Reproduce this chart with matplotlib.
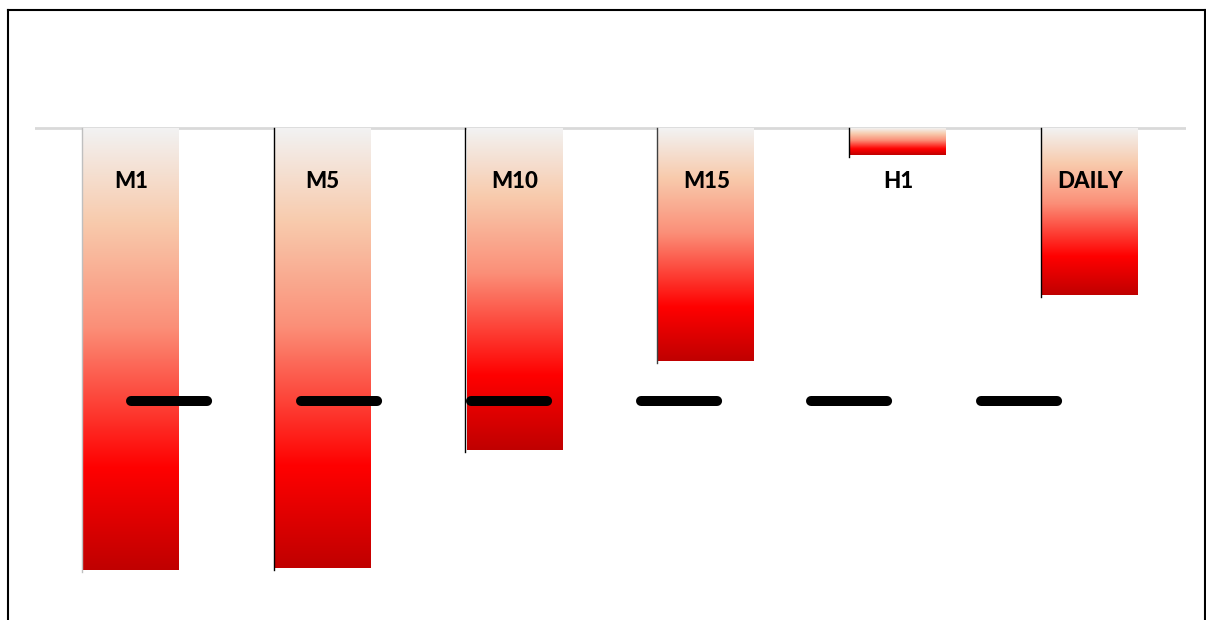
import matplotlib
matplotlib.use('Agg')
import matplotlib.pyplot as plt
import numpy as np
from matplotlib.colors import LinearSegmentedColormap
from matplotlib.lines import Line2D

plt.rcParams['lines.scale_dashes'] = False
plt.rcParams['font.family'] = ['Lato', 'DejaVu Sans']

# Data
categories = ['M1', 'M5', 'M10', 'M15', 'H1', 'DAILY']
values = [-4.42, -4.40, -3.22, -2.33, -0.27, -1.67]
threshold = [-2.73, -2.73, -2.73, -2.73, -2.73, -2.73]
edge_colors = ['#bfbfbf', '#000000', '#000000', '#404040', '#000000', '#000000']

# Gradient fill: light grey -> peach -> red -> dark red
grad = LinearSegmentedColormap.from_list('bar_grad', [
    (0.0, '#f2f2f2'),
    (0.21, '#f8cbad'),
    (0.45, '#fb8f78'),
    (0.77, '#ff0000'),
    (1.0, '#c00000'),
])

W, H, DPI = 1206, 620, 100
fig = plt.figure(figsize=(W / DPI, H / DPI), dpi=DPI)
ax = fig.add_axes([35 / W, 1 - 610 / H, (1186 - 35) / W, (610 - 30) / H])

bar_w = 0.5
x = np.arange(len(categories))
gradient = np.linspace(0, 1, 256).reshape(-1, 1)

for xi, v, ec in zip(x, values, edge_colors):
    ax.imshow(gradient, cmap=grad, aspect='auto', interpolation='bicubic',
              extent=(xi - bar_w / 2, xi + bar_w / 2, v, 0), zorder=2)
    ax.plot([xi - bar_w / 2 - 0.006] * 2, [0, v - 0.02], color=ec, lw=1, zorder=3)

# zero line
ax.axhline(0, color='#d9d9d9', lw=2, zorder=1)

# category labels inside bars
for xi, name in zip(x, categories):
    ax.text(xi, -0.53, name, ha='center', va='center', fontsize=16,
            fontweight='black', color='black', zorder=5)

# dashed threshold line
line = Line2D(x, threshold, color='black', lw=7.2, solid_capstyle='round',
              dash_capstyle='round', zorder=4)
line.set_dashes((54.8, 67.6))
ax.add_line(line)

ax.set_xlim(-0.5, len(categories) - 0.5)
ax.set_ylim(-4.82, 0.98)
ax.axis('off')

# frame around the chart
fig.add_artist(Line2D([8 / W, 8 / W], [0, 1 - 10 / H], color='black', lw=1.5,
                      transform=fig.transFigure))
fig.add_artist(Line2D([8 / W, 1205 / W], [1 - 10 / H, 1 - 10 / H], color='black', lw=1.5,
                      transform=fig.transFigure))
fig.add_artist(Line2D([1205 / W, 1205 / W], [0, 1 - 10 / H], color='black', lw=1.5,
                      transform=fig.transFigure))

fig.savefig('out.png', dpi=DPI, facecolor='white')
